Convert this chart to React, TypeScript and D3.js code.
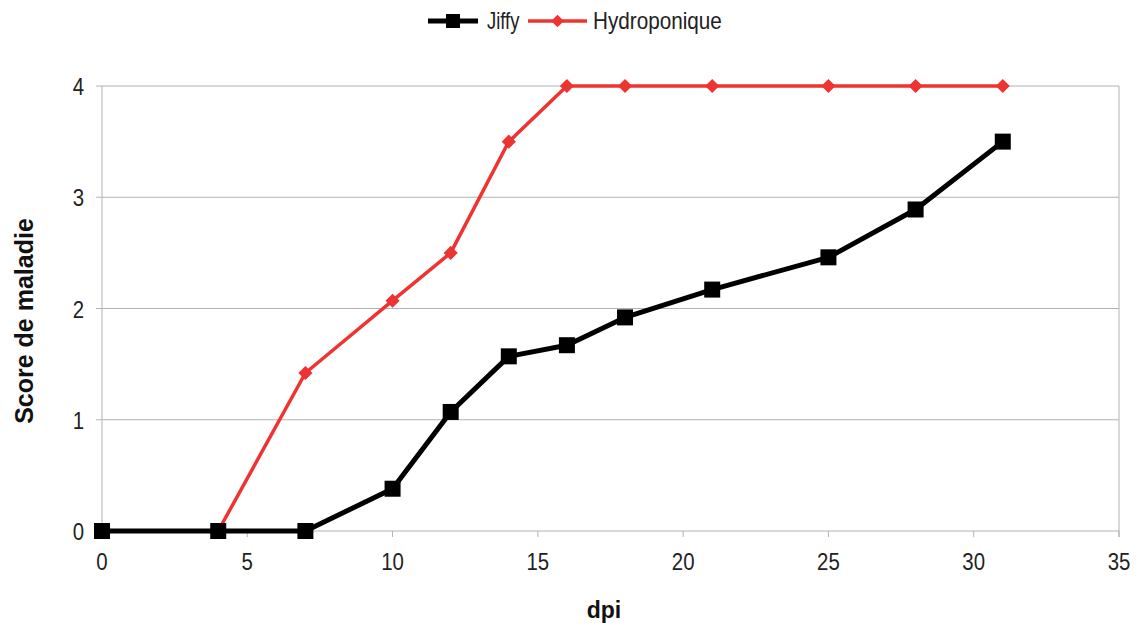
import React from 'react';
import * as d3 from 'd3';

const dpi = [0, 4, 7, 10, 12, 14, 16, 18, 21, 25, 28, 31];
const jiffy = [0, 0, 0, 0.38, 1.07, 1.57, 1.67, 1.92, 2.17, 2.46, 2.89, 3.5];
const hydroponique = [0, 0, 1.42, 2.07, 2.5, 3.5, 4, 4, 4, 4, 4, 4];
const xTicks = [0, 5, 10, 15, 20, 25, 30, 35];
const yTicks = [0, 1, 2, 3, 4];

const W = 1141;
const H = 629;
const margin = { left: 102, right: 22, top: 86, bottom: 98 };
const FONT = '"Liberation Sans", Arial, sans-serif';

// the reference uses a condensed face; squeeze regular Liberation Sans horizontally
const Narrow: React.FC<{ x: number; y: number; size: number; anchor?: string; sx?: number; children: React.ReactNode }> =
    ({ x, y, size, anchor = 'start', sx = 0.85, children }) => (
        <text transform={`translate(${x},${y}) scale(${sx},1)`} textAnchor={anchor as any}
            fontSize={size} fill="#222">{children}</text>
    );

const App: React.FC = () => {
    document.body.style.margin = '0';

    const x = d3.scaleLinear().domain([0, 35]).range([margin.left, W - margin.right]);
    const y = d3.scaleLinear().domain([0, 4]).range([H - margin.bottom, margin.top]);

    const line = d3.line<[number, number]>()
        .x(d => x(d[0]))
        .y(d => y(d[1]));

    const jiffyPts = dpi.map((d, i) => [d, jiffy[i]] as [number, number]);
    const hydroPts = dpi.map((d, i) => [d, hydroponique[i]] as [number, number]);

    const x0 = x(0);
    const x1 = x(35);
    const y0 = y(0);
    const y1 = y(4);
    const grid = '#b3b3b3';

    return (
        <svg width={W} height={H} style={{ display: 'block', background: '#fff' }} fontFamily={FONT}>
            {/* gridlines */}
            {yTicks.map(t => (
                <line key={'g' + t} x1={x0 - 6} x2={x1} y1={y(t)} y2={y(t)} stroke={grid} strokeWidth={1} />
            ))}
            {/* axes + right border */}
            <line x1={x0} x2={x0} y1={y1} y2={y0} stroke={grid} />
            <line x1={x1} x2={x1} y1={y1} y2={y0 + 6} stroke={grid} />
            {xTicks.map(t => (
                <g key={'x' + t}>
                    <line x1={x(t)} x2={x(t)} y1={y0} y2={y0 + 6} stroke={grid} />
                    <Narrow x={x(t)} y={y0 + 39} size={24} anchor="middle">{t}</Narrow>
                </g>
            ))}
            {yTicks.map(t => (
                <Narrow key={'y' + t} x={x0 - 18} y={y(t) + 9} size={24} anchor="end">{t}</Narrow>
            ))}

            {/* axis titles */}
            <text x={604} y={618} textAnchor="middle" fontSize={23} fontWeight="bold" fill="#111">dpi</text>
            <text transform={`translate(33, 321) rotate(-90)`} textAnchor="middle"
                fontSize={25} fontWeight="bold" fill="#111">Score de maladie</text>

            {/* series */}
            <path d={line(hydroPts) || ''} fill="none" stroke="#ee3333" strokeWidth={3.5} strokeLinejoin="round" />
            {hydroPts.map((p, i) => (
                <rect key={'h' + i} x={-5} y={-5} width={10} height={10} fill="#ee3333"
                    transform={`translate(${x(p[0])},${y(p[1])}) rotate(45)`} />
            ))}
            <path d={line(jiffyPts) || ''} fill="none" stroke="#000" strokeWidth={5} strokeLinejoin="round" />
            {jiffyPts.map((p, i) => (
                <rect key={'j' + i} x={x(p[0]) - 8} y={y(p[1]) - 8} width={16} height={16} fill="#000" />
            ))}

            {/* legend */}
            <g>
                <line x1={428} x2={478} y1={21} y2={21} stroke="#000" strokeWidth={5} />
                <rect x={446} y={14} width={14} height={14} fill="#000" />
                <Narrow x={487} y={29} size={23} sx={0.8}>Jiffy</Narrow>
                <line x1={528} x2={587} y1={21} y2={21} stroke="#ee3333" strokeWidth={3.5} />
                <rect x={-4.5} y={-4.5} width={9} height={9} fill="#ee3333" transform="translate(557.5,21) rotate(45)" />
                <Narrow x={593} y={29} size={23} sx={0.9}>Hydroponique</Narrow>
            </g>
        </svg>
    );
};

export default App;
